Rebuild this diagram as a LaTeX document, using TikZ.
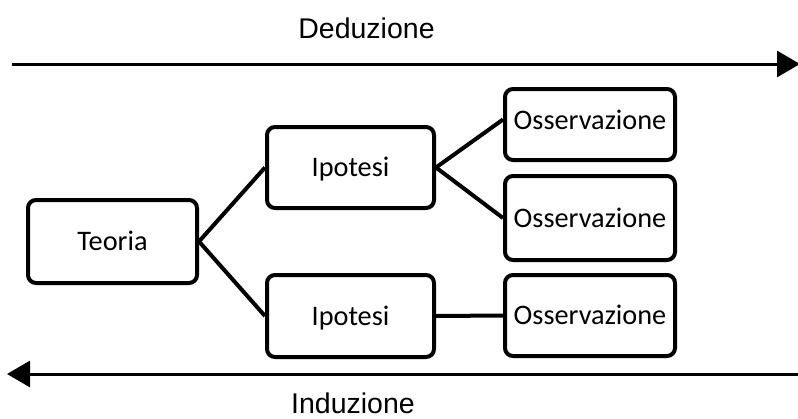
\documentclass[tikz,border=0pt]{standalone}
\usepackage{fontspec}
\setmainfont{Carlito}
\newfontfamily\labelfont{Liberation Sans}
\usetikzlibrary{arrows.meta}
\begin{document}
\begin{tikzpicture}[x=1pt,y=-1pt,
  boxtext/.style={font=\fontsize{28.3}{34}\selectfont,text height=18.2pt,text depth=0pt},
  box/.style={draw=black,line width=4pt,rounded corners=8pt,align=center,
    inner sep=0pt,boxtext},
  link/.style={line width=4pt},
  flow/.style={line width=3pt,-{Triangle[length=23pt,width=26pt]}},
  flowlabel/.style={font=\labelfont\fontsize{28.5}{34}\selectfont,inner sep=0pt,anchor=base}]
\useasboundingbox (0,0) rectangle (798,418);

% boxes
\node[box,minimum width=169pt,minimum height=83pt] (teoria) at (112.5,241.5) {Teoria};
\node[box,minimum width=167pt,minimum height=81pt] (ip1) at (350.5,167.5) {Ipotesi};
\node[box,minimum width=167pt,minimum height=82pt] (ip2) at (350.5,316) {Ipotesi};
\node[box,minimum width=170pt,minimum height=71pt] (oss1) at (590,124.5) {};
\node[boxtext,inner sep=0pt] (oss1t) at (590,120) {Osservazione};
\node[box,minimum width=170pt,minimum height=84pt] (oss2) at (590,218) {Osservazione};
\node[box,minimum width=170pt,minimum height=81pt] (oss3) at (590,315.5) {Osservazione};

% connectors
\draw[link] (teoria.east) -- (ip1.west);
\draw[link] (teoria.east) -- (ip2.west);
\draw[link] (ip1.east) -- ([yshift=5pt]oss1.west);
\draw[link] (ip1.east) -- (oss2.west);
\draw[link] (ip2.east) -- (oss3.west);

% deduction / induction arrows
\coordinate (dedA) at (12,64);
\coordinate (dedB) at (800,64);
\coordinate (indA) at (800,374);
\coordinate (indB) at (7,374);
\draw[flow] (dedA) -- (dedB);
\draw[flow] (indA) -- (indB);
\node[flowlabel] (ded) at (366.5,38) {Deduzione};
\node[flowlabel] (ind) at (353,413) {Induzione};
\end{tikzpicture}
\end{document}
